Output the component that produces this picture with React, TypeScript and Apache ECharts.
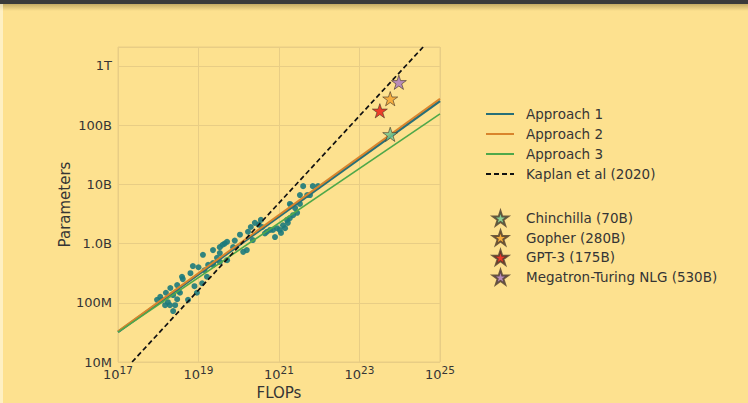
import React, { useEffect, useRef } from 'react';
import * as echarts from 'echarts';

// Scatter of fitted runs (log10 FLOPs, log10 params)
const scatterLogFlops = [17.97, 18.09, 18.17, 18.24, 18.29, 18.37, 18.37, 18.19, 18.42, 18.47, 18.47, 18.54, 18.59, 18.61, 18.74, 18.86, 18.96, 19.09, 19.11, 19.21, 19.24, 19.36, 19.36, 19.36, 19.46, 19.53, 19.53, 19.53, 19.71, 19.71, 19.86, 20.03, 20.2, 20.23, 20.35, 20.4, 20.58, 20.7, 20.78, 20.9, 20.95, 21.1, 21.02, 21.2, 21.22, 21.27, 21.35, 21.27, 21.52, 21.3, 21.45, 21.52, 21.77, 21.6, 21.84, 21.97, 20.85, 20.11, 21.15, 18.3, 18.9, 19.0, 19.65, 20.55, 18.05, 18.5, 18.8, 19.15, 19.6, 19.9, 20.3, 20.5, 20.65, 21.05, 21.4, 21.7];
const scatterLogParams = [8.05, 8.05, 7.96, 8.01, 7.96, 7.86, 8.13, 8.17, 7.96, 8.06, 8.3, 8.17, 8.44, 8.4, 8.05, 8.62, 8.17, 8.33, 8.81, 8.44, 8.64, 8.67, 8.89, 8.64, 8.76, 8.84, 8.94, 8.69, 9.03, 8.72, 8.94, 9.15, 8.89, 9.2, 9.06, 9.35, 9.28, 9.2, 9.23, 9.11, 9.26, 9.31, 9.23, 9.4, 9.35, 9.43, 9.48, 9.67, 9.67, 9.65, 9.52, 9.82, 9.82, 9.97, 9.97, 9.97, 9.23, 8.86, 9.26, 8.25, 8.28, 8.6, 9.0, 9.4, 8.1, 8.2, 8.5, 8.55, 8.98, 9.05, 9.28, 9.32, 9.17, 9.18, 9.6, 9.82];

const approach1 = { flops: [1e17, 1e25], params: [3.2e7, 2.57e11] };
const approach2 = { flops: [1e17, 1e25], params: [3.3e7, 2.8e11] };
const approach3 = { flops: [1e17, 1e25], params: [3.2e7, 1.55e11] };
const kaplan = { flops: [2.24e17, 3.8e24], params: [1e7, 2.09e12] };

const modelNames = ['Chinchilla (70B)', 'Gopher (280B)', 'GPT-3 (175B)', 'Megatron-Turing NLG (530B)'];
const modelFlops = [5.8e23, 5.8e23, 3.2e23, 9.5e23];
const modelParams = [7.0e10, 2.8e11, 1.75e11, 5.3e11];
const modelColors = ['#6fcb94', '#f5a12b', '#e8130f', '#a678c2'];

const yTickLabels = ['10M', '100M', '1.0B', '10B', '100B', '1T'];
const lineNames = ['Approach 1', 'Approach 2', 'Approach 3', 'Kaplan et al (2020)'];

const STAR = 'path://M50 0 L61.23 34.55 L97.55 34.55 L68.16 55.9 L79.39 90.45 L50 69.1 L20.61 90.45 L31.84 55.9 L2.45 34.55 L38.77 34.55 Z';

const BG = '#fde18f';
const GRIDC = '#e8cd85';
const TXT = '#353535';
const FONT = 'DejaVu Sans';

function pairs(xs: number[], ys: number[]) {
  return xs.map((x, i) => [x, ys[i]]);
}

export default function App() {
  const ref = useRef<HTMLDivElement>(null);
  useEffect(() => {
    if (!ref.current) return;
    const chart = echarts.init(ref.current, undefined, { renderer: 'svg' });
    const scatterData = scatterLogFlops.map((f, i) => [Math.pow(10, f), Math.pow(10, scatterLogParams[i])]);
    const starSeries = modelNames.map((n, i) => ({
      name: n,
      type: 'scatter',
      symbol: STAR,
      symbolKeepAspect: true,
      symbolSize: 15,
      z: 10,
      itemStyle: { color: modelColors[i], borderColor: '#4a3a2a', borderWidth: 0.8 },
      data: [[modelFlops[i], modelParams[i]]],
    }));
    const option: any = {
      animation: false,
      backgroundColor: BG,
      textStyle: { fontFamily: FONT },
      graphic: [
        { type: 'rect', shape: { x: 0, y: 0, width: 748, height: 4 }, style: { fill: '#3a3a3a' } },
        {
          type: 'rect',
          shape: { x: 0, y: 4, width: 748, height: 7 },
          style: {
            fill: new echarts.graphic.LinearGradient(0, 0, 0, 1, [
              { offset: 0, color: 'rgba(90,70,20,0.35)' },
              { offset: 1, color: 'rgba(90,70,20,0)' },
            ]),
          },
        },
        { type: 'rect', shape: { x: 0, y: 4, width: 3, height: 399 }, style: { fill: 'rgba(255,250,230,0.6)' } },
      ],
      grid: {
        left: 118,
        right: 308,
        top: 47,
        bottom: 41,
        containLabel: false,
        outerBoundsMode: 'none',
        show: true,
        borderColor: GRIDC,
        borderWidth: 1,
        backgroundColor: 'transparent',
      },
      xAxis: {
        type: 'log',
        min: 1e17,
        max: 1e25,
        interval: 2,
        name: 'FLOPs',
        nameLocation: 'middle',
        nameGap: 21,
        nameTextStyle: { fontSize: 15, color: TXT, fontFamily: FONT },
        axisLine: { show: false },
        axisTick: { show: false },
        splitLine: { show: true, lineStyle: { color: GRIDC, width: 1 } },
        axisLabel: {
          margin: 2,
          color: TXT,
          formatter: (v: number) => {
            const e = Math.round(Math.log10(v));
            return `{b|10}{s|${e}}`;
          },
          rich: {
            b: { fontSize: 13, fontFamily: FONT, color: TXT, verticalAlign: 'bottom', lineHeight: 17 },
            s: { fontSize: 10.5, fontFamily: FONT, color: TXT, verticalAlign: 'top', lineHeight: 11 },
          },
        },
      },
      yAxis: {
        type: 'log',
        min: 1e7,
        max: 2.09e12,
        name: 'Parameters',
        nameLocation: 'middle',
        nameGap: 46,
        nameRotate: 90,
        nameTextStyle: { fontSize: 15, color: TXT, fontFamily: FONT },
        axisLine: { show: false },
        axisTick: { show: false },
        splitLine: { show: true, lineStyle: { color: GRIDC, width: 1 } },
        axisLabel: {
          margin: 6,
          fontSize: 13,
          color: TXT,
          fontFamily: FONT,
          formatter: (v: number) => {
            const e = Math.log10(v);
            if (Math.abs(e - Math.round(e)) > 0.01) return '';
            return yTickLabels[Math.round(e) - 7] || '';
          },
        },
      },
      legend: [
        {
          orient: 'vertical',
          left: 480,
          top: 102,
          itemWidth: 28,
          itemHeight: 14,
          itemGap: 6,
          itemStyle: { opacity: 0 },
          lineStyle: { width: 2 },
          data: lineNames,
          textStyle: { fontSize: 13.5, color: TXT, fontFamily: FONT, padding: [0, 0, 0, 7] },
        },
        {
          orient: 'vertical',
          left: 487,
          top: 205,
          itemWidth: 15,
          itemHeight: 15,
          itemGap: 3.4,
          data: modelNames.map((n) => ({ name: n, icon: STAR })),
          textStyle: { fontSize: 13.5, color: TXT, fontFamily: FONT, padding: [0, 0, 0, 13] },
        },
      ],
      series: [
        {
          name: 'runs',
          type: 'scatter',
          symbolSize: 6,
          itemStyle: { color: '#1c7a7c', opacity: 0.9 },
          data: scatterData,
          z: 2,
        },
        {
          name: lineNames[0],
          type: 'line',
          symbol: 'none',
          lineStyle: { color: '#276f78', width: 2.5 },
          itemStyle: { color: '#276f78' },
          data: pairs(approach1.flops, approach1.params),
          z: 3,
        },
        {
          name: lineNames[1],
          type: 'line',
          symbol: 'none',
          lineStyle: { color: '#d9842c', width: 2 },
          itemStyle: { color: '#d9842c' },
          data: pairs(approach2.flops, approach2.params),
          z: 4,
        },
        {
          name: lineNames[2],
          type: 'line',
          symbol: 'none',
          lineStyle: { color: '#4fa84a', width: 1.6 },
          itemStyle: { color: '#4fa84a' },
          data: pairs(approach3.flops, approach3.params),
          z: 5,
        },
        {
          name: lineNames[3],
          type: 'line',
          symbol: 'none',
          lineStyle: { color: '#111111', width: 1.7, type: [5, 3] },
          itemStyle: { color: '#111111' },
          data: pairs(kaplan.flops, kaplan.params),
          z: 6,
        },
        ...starSeries,
      ],
    };
    chart.setOption(option);
    return () => chart.dispose();
  }, []);
  return (
    <div
      ref={ref}
      style={{ position: 'absolute', left: 0, top: 0, width: 748, height: 403 }}
    />
  );
}
